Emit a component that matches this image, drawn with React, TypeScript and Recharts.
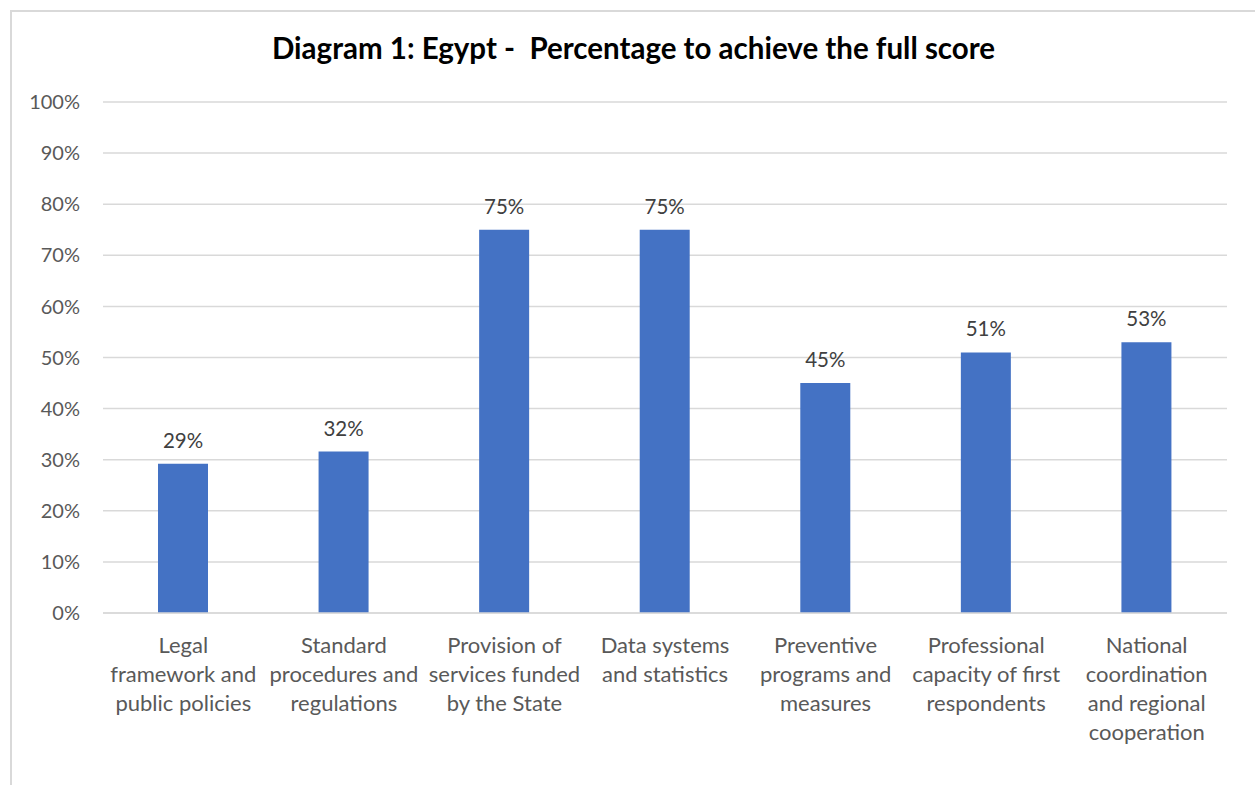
import React from 'react';
import { BarChart, Bar, XAxis, YAxis, CartesianGrid, LabelList } from 'recharts';

const categories = [
  'Legal\nframework and\npublic policies',
  'Standard\nprocedures and\nregulations',
  'Provision of\nservices funded\nby the State',
  'Data systems\nand statistics',
  'Preventive\nprograms and\nmeasures',
  'Professional\ncapacity of first\nrespondents',
  'National\ncoordination\nand regional\ncooperation',
];

const scores = [29.2, 31.6, 75, 75, 45, 51, 53];

const yTicks = [0, 10, 20, 30, 40, 50, 60, 70, 80, 90, 100];

const data = categories.map((name, i) => ({ name, score: scores[i] }));

const FONT = 'Lato, "Liberation Sans", sans-serif';

function CategoryTick(props: any) {
  const { x, y, payload } = props;
  const lines = String(payload.value).split('\n');
  return (
    <g transform={`translate(${x},${y})`}>
      {lines.map((line: string, i: number) => (
        <text
          key={i}
          x={0}
          y={26 + i * 29}
          textAnchor="middle"
          dominantBaseline="middle"
          fill="#595959"
          fontSize={22}
          fontFamily={FONT}
        >
          {line}
        </text>
      ))}
    </g>
  );
}

function App() {
  return (
    <div
      style={{
        position: 'absolute',
        left: 0,
        top: 0,
        width: 1255,
        height: 785,
        overflow: 'hidden',
        background: '#ffffff',
        fontFamily: FONT,
      }}
    >
      <div
        style={{
          position: 'absolute',
          left: 10,
          top: 10,
          width: 1270,
          height: 800,
          border: '2px solid #d9d9d9',
          boxSizing: 'border-box',
        }}
      />
      <div
        style={{
          position: 'absolute',
          left: 0,
          top: 30,
          width: 1267,
          textAlign: 'center',
          fontSize: 29.5,
          fontWeight: 700,
          color: '#000000',
        }}
      >
        Diagram 1: Egypt -&nbsp; Percentage to achieve the full score
      </div>
      <div style={{ position: 'absolute', left: 0, top: 0 }}>
        <BarChart
          width={1255}
          height={785}
          data={data}
          margin={{ top: 102, right: 28, left: 23, bottom: 22 }}
        >
          <CartesianGrid vertical={false} stroke="#d9d9d9" strokeWidth={1.5} />
          <XAxis
            dataKey="name"
            interval={0}
            height={150}
            tick={<CategoryTick />}
            tickLine={false}
            axisLine={{ stroke: '#d9d9d9', strokeWidth: 1.5 }}
          />
          <YAxis
            width={80}
            domain={[0, 100]}
            ticks={yTicks}
            tickFormatter={(v: number) => `${v}%`}
            tick={{ fill: '#595959', fontSize: 20, fontFamily: FONT }}
            tickMargin={17}
            axisLine={false}
            tickLine={false}
          />
          <Bar dataKey="score" fill="#4472C4" barSize={50} isAnimationActive={false}>
            <LabelList
              dataKey="score"
              position="top"
              offset={16}
              fill="#404040"
              fontSize={20.5}
              fontFamily={FONT}
              formatter={(v: any) => `${Math.round(Number(v))}%`}
            />
          </Bar>
        </BarChart>
      </div>
    </div>
  );
}

export default App;
